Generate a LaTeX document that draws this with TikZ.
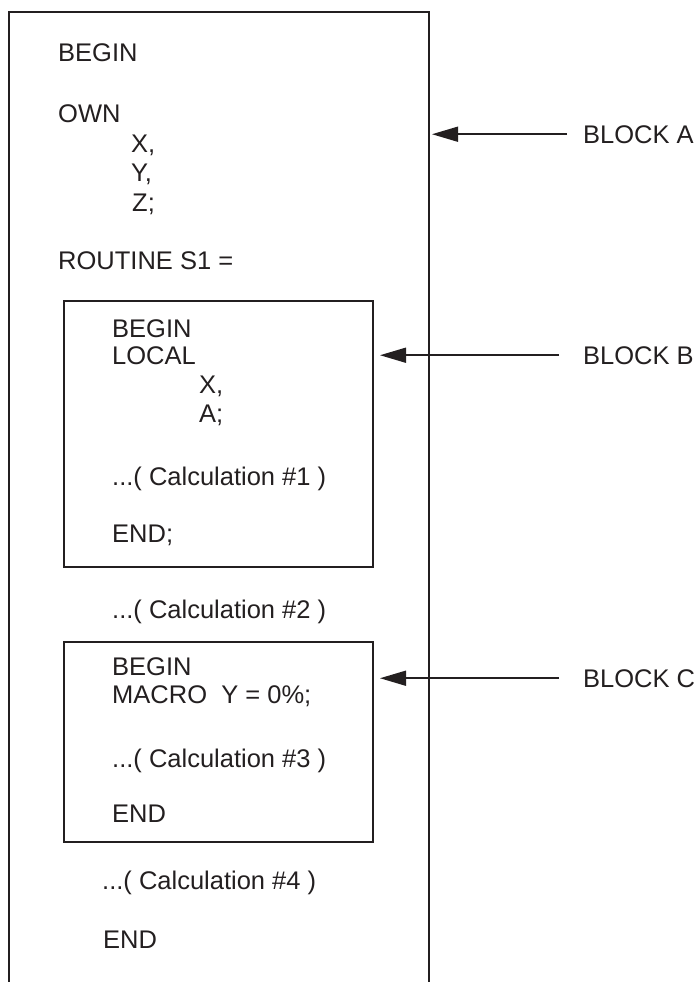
\documentclass[tikz,border=0pt]{standalone}
\usepackage{fontspec}
\setmainfont{Liberation Sans}
\usetikzlibrary{arrows.meta}
\definecolor{ink}{HTML}{231F20}
\begin{document}
\begin{tikzpicture}[x=1pt,y=-1pt,
  txt/.style={anchor=base west,inner sep=0pt,font=\fontsize{25.5}{30}\selectfont,text=ink},
  frame/.style={draw=ink,line width=2pt},
  boxframe/.style={draw=ink,line width=2pt,inner sep=0pt,anchor=north west},
  ptr/.style={draw=ink,line width=1.6pt,-{Triangle[length=26pt,width=15pt]}}]
\useasboundingbox (0,0) rectangle (700,982);
% outer block A
\coordinate (aBL) at (9,990);
\coordinate (aTL) at (9,12.5);
\coordinate (aTR) at (428.5,12.5);
\coordinate (aBR) at (428.5,990);
\draw[frame] (aBL) -- (aTL) -- (aTR) -- (aBR);
% inner blocks
\node[boxframe,minimum width=309pt,minimum height=266pt] (boxB) at (63,300) {};
\node[boxframe,minimum width=309pt,minimum height=200pt] (boxC) at (63,641) {};
% block A text
\node[txt] (t1) at (58,62) {BEGIN};
\node[txt] (t2) at (58,122) {OWN};
\node[txt] (t3) at (131,152) {X,};
\node[txt] (t4) at (131,181) {Y,};
\node[txt] (t5) at (132,211) {Z;};
\node[txt] (t6) at (58,269) {ROUTINE S1 =};
% block B text
\node[txt] (b1) at (112,337) {BEGIN};
\node[txt] (b2) at (112,364) {LOCAL};
\node[txt] (b3) at (199,393) {X,};
\node[txt] (b4) at (199,422) {A;};
\node[txt] (b5) at (112,485) {...( Calculation \#1 )};
\node[txt] (b6) at (112,542) {END;};
% between
\node[txt] (m1) at (112,618) {...( Calculation \#2 )};
% block C text
\node[txt] (c1) at (112,675) {BEGIN};
\node[txt] (c2) at (112,703) {MACRO\ \ Y = 0\%;};
\node[txt] (c3) at (112,767) {...( Calculation \#3 )};
\node[txt] (c4) at (112,822) {END};
% tail
\node[txt] (e1) at (102,889) {...( Calculation \#4 )};
\node[txt] (e2) at (103,948) {END};
% labels
\node[txt] (lblA) at (583,143) {BLOCK A};
\node[txt] (lblB) at (583,364) {BLOCK B};
\node[txt] (lblC) at (583,687) {BLOCK C};
\coordinate (tipA) at (432,134);
\coordinate (tipB) at ([xshift=6pt]boxB.east |- lblB.west);
\coordinate (tipC) at ([xshift=6pt]boxC.east |- lblC.west);
\draw[ptr] ([xshift=-16pt]lblA.west) -- (tipA |- lblA.west);
\draw[ptr] ([xshift=-24pt]lblB.west) -- (tipB);
\draw[ptr] ([xshift=-24pt]lblC.west) -- (tipC);
\end{tikzpicture}
\end{document}
